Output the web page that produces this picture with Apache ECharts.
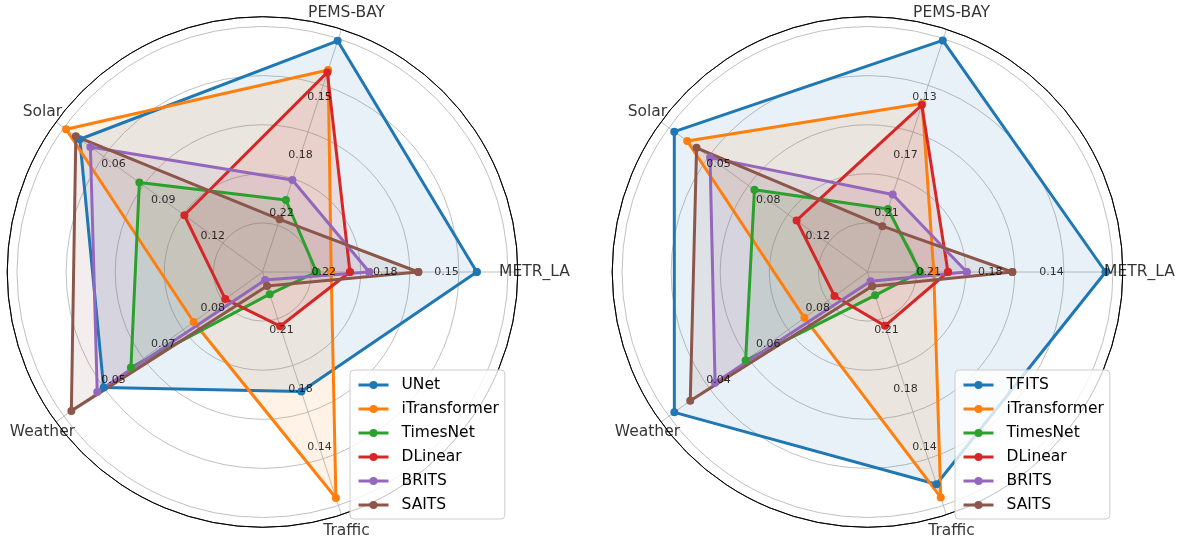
<!DOCTYPE html>
<html>
<head>
<meta charset="utf-8">
<script src="https://cdn.jsdelivr.net/npm/echarts@6/dist/echarts.min.js"></script>
<style>
  html, body { margin: 0; padding: 0; background: #fff; }
  #main { width: 1184px; height: 539px; }
</style>
</head>
<body>
<div id="main"></div>
<script>
const axisNames = ['METR_LA', 'PEMS-BAY', 'Solar', 'Weather', 'Traffic']
const colors = ['#1f77b4', '#ff7f0e', '#2ca02c', '#d62728', '#9467bd', '#8c564b']
const leftModels = ['UNet', 'iTransformer', 'TimesNet', 'DLinear', 'BRITS', 'SAITS']
const rightModels = ['TFITS', 'iTransformer', 'TimesNet', 'DLinear', 'BRITS', 'SAITS']

// error value at the centre of each spoke, and how much it drops out to the r=1 ring
// (lower error sits further out)
const leftAxisTop = [0.256, 0.256, 0.150, 0.096, 0.247]
const leftAxisSpan = [0.144, 0.144, 0.120, 0.056, 0.140]
const rightAxisTop = [0.247, 0.250, 0.153, 0.100, 0.247]
const rightAxisSpan = [0.140, 0.160, 0.140, 0.080, 0.140]

// values per model, order: METR_LA, PEMS-BAY, Solar, Weather, Traffic
const unetL = [0.1303, 0.1134, 0.0396, 0.0512, 0.1753]
const itransL = [0.2157, 0.1314, 0.0313, 0.0766, 0.1115]
const timesnetL = [0.2243, 0.2116, 0.0756, 0.0589, 0.2337]
const dlinearL = [0.2047, 0.1329, 0.1028, 0.0855, 0.2145]
const britsL = [0.1934, 0.1993, 0.0460, 0.0494, 0.2422]
const saitsL = [0.1646, 0.2235, 0.0372, 0.0421, 0.2386]

const tfitsR = [0.1112, 0.0913, 0.0168, 0.0222, 0.1197]
const itransR = [0.2092, 0.1345, 0.0259, 0.0746, 0.1118]
const timesnetR = [0.2169, 0.2068, 0.0733, 0.0509, 0.2330]
const dlinearR = [0.2011, 0.1356, 0.1030, 0.0867, 0.2147]
const britsR = [0.1904, 0.1969, 0.0420, 0.0386, 0.2414]
const saitsR = [0.1644, 0.2186, 0.0325, 0.0286, 0.2385]

// tick labels shown on each spoke at r = 0.25, 0.5, 0.75
const tickPos = [0.25, 0.5, 0.75]
const leftTicks = [['0.22', '0.18', '0.15'], ['0.22', '0.18', '0.15'], ['0.12', '0.09', '0.06'], ['0.08', '0.07', '0.05'], ['0.21', '0.18', '0.14']]
const rightTicks = [['0.21', '0.18', '0.14'], ['0.21', '0.17', '0.13'], ['0.12', '0.08', '0.05'], ['0.08', '0.06', '0.04'], ['0.21', '0.18', '0.14']]

const font = 'DejaVu Sans'
const rMax = 1.04
const nameR = 1.108
const step = 360 / axisNames.length

const leftValues = [unetL, itransL, timesnetL, dlinearL, britsL, saitsL]
const rightValues = [tfitsR, itransR, timesnetR, dlinearR, britsR, saitsR]

function radarLine(name, values, top, span, polarIndex, color) {
    const pts = values.map((v, i) => [(top[i] - v) / span[i], i * step])
    pts.push(pts[0])
    return {
        type: 'line', name: name, coordinateSystem: 'polar', polarIndex: polarIndex,
        data: pts, symbol: 'circle', symbolSize: 8, showSymbol: true, clip: false,
        lineStyle: { width: 3, color: color }, itemStyle: { color: color },
        areaStyle: { color: color, opacity: 0.1 },
        animation: false, z: 2
    }
}

function textSeries(polarIndex, data, size) {
    return {
        type: 'scatter', coordinateSystem: 'polar', polarIndex: polarIndex,
        data: data, symbolSize: 1, itemStyle: { color: 'rgba(0,0,0,0)' },
        silent: true, clip: false, animation: false, z: 10,
        label: {
            show: true, position: 'inside', formatter: p => p.value[2],
            color: '#000', textBorderWidth: 0, fontSize: size, fontFamily: font
        }
    }
}

function tickData(ticks) {
    const out = []
    axisNames.forEach((a, i) => ticks[i].forEach((t, k) => out.push([tickPos[k], i * step, t])))
    return out
}

const nameData = axisNames.map((a, i) => [nameR, i * step, a])

const series = []
leftModels.forEach((m, i) => series.push(radarLine(m, leftValues[i], leftAxisTop, leftAxisSpan, 0, colors[i])))
rightModels.forEach((m, i) => series.push(radarLine(m, rightValues[i], rightAxisTop, rightAxisSpan, 1, colors[i])))
series.push(textSeries(0, tickData(leftTicks), 11))
series.push(textSeries(1, tickData(rightTicks), 11))
series.push(textSeries(0, nameData, 15.5))
series.push(textSeries(1, nameData, 15.5))

const centers = [[262.5, 272], [867.5, 272]]
const gridColor = '#b0b0b0'

function legendAt(left, names) {
    return {
        data: names, orient: 'vertical', left: left, top: 370,
        itemWidth: 30, itemHeight: 10, itemGap: 6,
        padding: [6, 6, 5, 7],
        borderColor: '#cccccc', borderWidth: 1, borderRadius: 4,
        backgroundColor: 'rgba(255,255,255,0.8)',
        lineStyle: { width: 3 },
        textStyle: { fontSize: 15.5, fontFamily: font, color: '#000', lineHeight: 18, padding: [0, 0, 0, 8] },
        selectedMode: false, z: 20
    }
}

const option = {
    backgroundColor: '#fff',
    animation: false,
    polar: centers.map(c => ({ center: c, radius: 255.3 })),
    angleAxis: [0, 1].map(i => ({
        polarIndex: i, type: 'value', min: 0, max: 360, interval: step,
        startAngle: 0, clockwise: false,
        axisLine: { show: true, lineStyle: { color: '#000', width: 1 } },
        axisTick: { show: false }, axisLabel: { show: false },
        splitLine: { show: true, lineStyle: { color: gridColor, width: 0.8 } }
    })),
    radiusAxis: [0, 1].map(i => ({
        polarIndex: i, type: 'value', min: 0, max: rMax, interval: 0.2,
        axisLine: { show: false }, axisTick: { show: false }, axisLabel: { show: false },
        splitLine: { show: true, lineStyle: { color: [gridColor, gridColor, gridColor, gridColor, gridColor, gridColor, '#000'], width: 0.8 } }
    })),
    legend: [legendAt(350, leftModels), legendAt(955, rightModels)],
    series: series
}

const myChart = echarts.init(document.getElementById('main'))
myChart.setOption(option)
</script>
</body>
</html>
